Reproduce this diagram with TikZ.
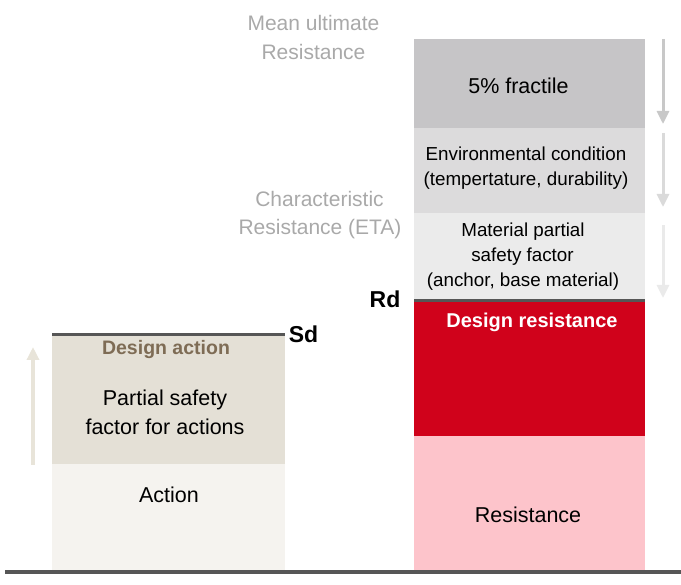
\documentclass[tikz,border=0pt]{standalone}
\usepackage{fontspec}
\setmainfont{Liberation Sans}
\usetikzlibrary{arrows.meta}
\definecolor{fractcol}{HTML}{C6C5C7}
\definecolor{envcol}{HTML}{DCDBDC}
\definecolor{matcol}{HTML}{EBEBEB}
\definecolor{redcol}{HTML}{D0021B}
\definecolor{pinkcol}{HTML}{FDC4CB}
\definecolor{psfcol}{HTML}{E4E0D6}
\definecolor{actcol}{HTML}{F5F3EF}
\definecolor{linecol}{HTML}{565656}
\definecolor{greytxt}{HTML}{A9A9A9}
\definecolor{browntxt}{HTML}{7E6C55}
\definecolor{arrbeige}{HTML}{E8E4D9}
\definecolor{arrA}{HTML}{C8C8C8}
\definecolor{arrB}{HTML}{DADADA}
\definecolor{arrC}{HTML}{EAEAEA}
\begin{document}
\begin{tikzpicture}[x=1pt,y=-1pt,
  box/.style={draw=none,inner sep=0pt,outer sep=0pt,anchor=north west,minimum width=231pt},
  lbox/.style={box,minimum width=233pt},
  lab/.style={inner sep=0pt,anchor=base,align=center},
  topline/.style={draw=linecol,line width=3pt},
  arr/.style={line width=3pt,-{Triangle[width=12pt,length=13pt]}},
  fbig/.style={font=\fontsize{21.5}{26}\selectfont},
  fsmall/.style={font=\fontsize{18.8}{24}\selectfont},
  fgrey/.style={font=\fontsize{21}{26}\selectfont,text=greytxt},
  fbold/.style={font=\fontsize{20}{24}\selectfont\bfseries},
  fmark/.style={font=\fontsize{23}{26}\selectfont\bfseries}
]
\useasboundingbox (0,0) rectangle (681,585);

% left column
\node[lbox,fill=actcol,minimum height=106pt] (action) at (52,464) {};
\node[lbox,fill=psfcol,minimum height=129pt] (psf) at (52,335) {};
\draw[topline] (psf.north west) -- (psf.north east);

% right column
\node[box,fill=fractcol,minimum height=89pt] (fract) at (414,39) {};
\node[box,fill=envcol,minimum height=85pt] (env) at (414,128) {};
\node[box,fill=matcol,minimum height=88pt] (mat) at (414,213) {};
\node[box,fill=redcol,minimum height=135pt] (design) at (414,301) {};
\node[box,fill=pinkcol,minimum height=134pt] (resist) at (414,436) {};
\draw[topline] (mat.south west) -- (mat.south east);

% base line
\coordinate (bl) at (5,572);
\coordinate (br) at (681,572);
\draw[draw=linecol,line width=3.5pt] (bl) -- (br);

% arrows
\coordinate (la0) at (33,465);
\coordinate (la1) at (33,347);
\draw[arr,draw=arrbeige,fill=arrbeige,line width=4pt] (la0) -- (la1);
\coordinate (ra0) at (663,39);
\coordinate (ra1) at (663,124);
\coordinate (rb0) at (663,133);
\coordinate (rb1) at (663,207);
\coordinate (rc0) at (663,225);
\coordinate (rc1) at (663,298);
\draw[arr,draw=arrA,fill=arrA] (ra0) -- (ra1);
\draw[arr,draw=arrB,fill=arrB] (rb0) -- (rb1);
\draw[arr,draw=arrC,fill=arrC] (rc0) -- (rc1);

% texts
\node[lab,fgrey] (mu1) at (313.5,31) {Mean ultimate};
\node[lab,fgrey] (mu2) at (313.5,60) {Resistance};
\node[lab,fgrey] (ch1) at (319.5,206.5) {Characteristic};
\node[lab,fgrey] (ch2) at (320,235) {Resistance (ETA)};

\node[lab,fbig] (t5) at (518.5,94) {5\% fractile};
\node[lab,fsmall] (te1) at (526,160.7) {Environmental condition};
\node[lab,fsmall] (te2) at (526,185.3) {(tempertature, durability)};
\node[lab,fsmall] (tm1) at (523,236.7) {Material partial};
\node[lab,fsmall] (tm2) at (522.5,261.7) {safety factor};
\node[lab,fsmall] (tm3) at (523,286.7) {(anchor, base material)};
\node[lab,fbold,text=white] (tdr) at (532,328) {Design resistance};
\node[lab,fbig] (tres) at (528,522.7) {Resistance};
\node[lab,fmark] (rd) at (385,308) {Rd};

\node[lab,fmark] (sd) at (303.5,343) {Sd};
\node[lab,fbold,text=browntxt,font=\fontsize{19.5}{24}\selectfont\bfseries] (tda) at (166,355) {Design action};
\node[lab,fbig] (tp1) at (165,406) {Partial safety};
\node[lab,fbig] (tp2) at (165,435) {factor for actions};
\node[lab,fbig] (tact) at (169,503) {Action};
\end{tikzpicture}
\end{document}
